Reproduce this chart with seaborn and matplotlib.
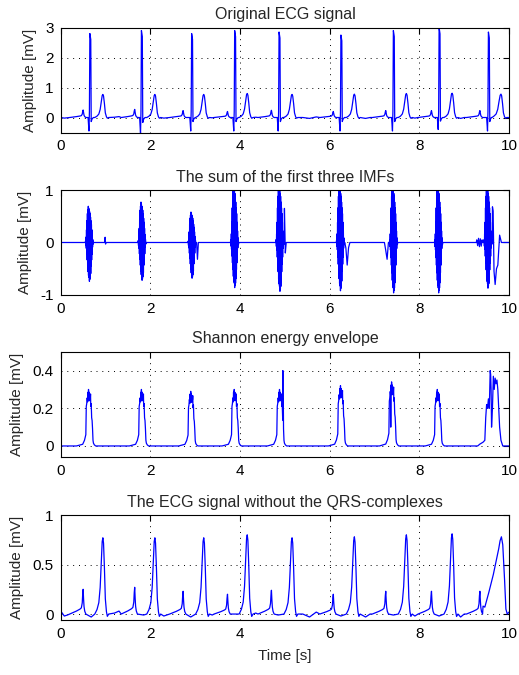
import numpy as np
import pandas as pd
import matplotlib
matplotlib.use("Agg")
import matplotlib.pyplot as plt
import seaborn as sns

# beat landmarks (seconds)
r_times = [0.65, 1.80, 2.92, 3.88, 4.87, 6.25, 7.42, 8.44, 9.54]
p_times = [0.50, 1.65, 2.73, 3.72, 4.70, 6.08, 7.25, 8.27, 9.35]
t_times = [0.94, 2.10, 3.19, 4.16, 5.16, 6.55, 7.71, 8.73, 9.82]

# wave amplitudes (mV)
r_amp = [2.80, 2.90, 2.80, 2.90, 2.85, 2.75, 2.90, 3.00, 2.85]
q_amp = [0.45, 0.55, 0.45, 0.45, 0.45, 0.45, 0.45, 0.40, 0.45]
p_amp = [0.25, 0.27, 0.23, 0.20, 0.24, 0.20, 0.23, 0.23, 0.23]
t_amp = [0.77, 0.77, 0.77, 0.80, 0.77, 0.78, 0.80, 0.81, 0.78]
t_rise = [1, 1, 1, 1, 1, 1, 1, 1, 1.2]

# wave shapes (offset from the landmark, fraction of the amplitude)
p_off = [-0.30, -0.15, -0.07, -0.04, -0.02, -0.01, 0.0, 0.01, 0.02, 0.035, 0.06]
p_rel = [0.0, 0.12, 0.2, 0.25, 0.45, 0.8, 1.0, 0.6, 0.3, 0.12, 0.0]
qrs_off = [-0.04, -0.02, -0.01, 0.0, 0.02, 0.03, 0.05, 0.08]
qrs_rel = [0.0, -1.0, 0.07, 1.0, 0.93, -0.3, -0.1, 0.0]
t_off = [-0.18, -0.13, -0.09, -0.06, -0.035, -0.015, 0.0, 0.015, 0.035, 0.055, 0.08, 0.10, 0.13]
t_rel = [0.0, 0.06, 0.15, 0.35, 0.7, 0.95, 1.0, 0.93, 0.6, 0.2, 0.03, -0.03, 0.0]

# slow baseline wander between the beats
base_t = [0.08, 0.15, 1.20, 1.30, 2.30, 3.38, 4.35, 5.40, 5.55, 5.70, 6.80, 6.90, 7.90, 8.92, 9.00]
base_v = [-0.02, -0.01, 0.01, 0.03, -0.02, -0.01, 0.01, 0.0, -0.03, 0.02, -0.03, 0.0, -0.02, -0.03, 0.0]
# what is left where the QRS was cut out
gap_t = [0.68, 1.85, 2.90, 3.88, 4.85, 6.25, 7.42, 8.44]
gap_v = [-0.03, -0.01, -0.03, 0.0, -0.01, -0.02, -0.01, -0.02]
# last beat of the cleaned signal (long ramp into the T wave)
tail_t = [9.42, 9.46, 9.55, 9.65, 9.72, 9.77, 9.80, 9.83, 9.86, 9.90, 9.93, 9.96]
tail_v = [0.08, 0.07, 0.22, 0.40, 0.55, 0.66, 0.74, 0.78, 0.70, 0.35, 0.05, 0.0]

# IMF bursts
burst_mid = [0.655, 1.83, 2.945, 3.895, 4.905, 6.255, 7.44, 8.445, 9.545]
burst_up = [0.69, 0.77, 0.58, 1.1, 1.1, 1.1, 1.1, 1.1, 1.1]
burst_dn = [0.74, 0.72, 0.68, 0.86, 0.93, 0.92, 0.96, 0.96, 0.87]
burst_off = [-0.11, -0.10, -0.095, -0.09, -0.085, -0.08, -0.075, -0.07, -0.065, -0.06,
             -0.055, -0.05, -0.045, -0.04, -0.035, -0.03, -0.025, -0.02, -0.015, -0.01,
             -0.005, 0.0, 0.005, 0.01, 0.015, 0.02, 0.025, 0.03, 0.035, 0.04,
             0.045, 0.05, 0.055, 0.06, 0.07, 0.08]
burst_rel = [0.0, 0.05, -0.08, 0.15, -0.15, 0.35, -0.3, 0.6, -0.45, 0.8,
             -0.6, 0.9, -0.75, 1.0, -0.85, 0.95, -0.9, 0.9, -1.0, 0.85,
             -0.95, 0.8, -0.9, 0.7, -0.8, 0.6, -0.6, 0.5, -0.45, 0.35,
             -0.3, 0.2, -0.12, 0.08, -0.04, 0.0]
imf_t = [0.98, 0.99, 1.00, 1.01, 3.03, 3.05, 3.07, 4.99, 5.01, 5.03, 6.36, 6.39, 6.42, 6.45,
         7.22, 7.25, 7.28, 7.31, 9.27, 9.28, 9.30, 9.32, 9.34, 9.36, 9.38, 9.40, 9.41,
         9.63, 9.645, 9.665, 9.69, 9.72, 9.75, 9.79, 9.83]
imf_v = [0.0, 0.1, -0.03, 0.0, 0.0, -0.32, 0.0, 0.65, -0.2, 0.0, -0.1, -0.43, -0.1, 0.0,
         0.0, -0.15, -0.32, 0.0, 0.0, 0.05, -0.06, 0.08, -0.08, 0.07, -0.07, 0.05, 0.0,
         0.68, 0.6, -0.55, -0.8, -0.5, -0.43, 0.14, 0.0]

# Shannon energy bumps
sh_mid = [0.65, 1.83, 2.93, 3.90, 4.91, 6.27, 7.41, 8.43]
sh_peak = [0.30, 0.30, 0.29, 0.30, 0.30, 0.32, 0.34, 0.30]
sh_off = [-0.30, -0.16, -0.12, -0.09, -0.08, -0.07, -0.06, -0.05, -0.045, -0.04, -0.03, -0.02,
          -0.015, -0.01, 0.0, 0.01, 0.015, 0.02, 0.03, 0.04, 0.05, 0.06, 0.07, 0.08, 0.10, 0.13]
sh_rel = [0.0, 0.03, 0.1, 0.2, 0.7, 0.75, 0.85, 0.78, 0.95, 0.8, 1.0, 0.85, 0.95, 0.8, 0.9,
          0.85, 0.92, 0.7, 0.75, 0.5, 0.45, 0.3, 0.1, 0.05, 0.02, 0.0]
sh_t = [4.955, 4.965, 7.362,
        9.30, 9.35, 9.42, 9.46, 9.48, 9.50, 9.52, 9.54, 9.56, 9.58, 9.59, 9.60, 9.61, 9.63,
        9.65, 9.67, 9.69, 9.71, 9.73, 9.75, 9.77, 9.79, 9.82, 9.86]
sh_v = [0.40, 0.25, 0.10,
        0.0, 0.01, 0.02, 0.03, 0.15, 0.22, 0.20, 0.25, 0.20, 0.40, 0.38, 0.30, 0.10, 0.20,
        0.37, 0.30, 0.36, 0.33, 0.35, 0.30, 0.20, 0.10, 0.03, 0.0]


def place(anchors, offsets, rel, up, down=None, stretch=None):
    # put one wave shape at every landmark
    down = up if down is None else down
    t, v = [], []
    for i, a in enumerate(anchors):
        k = 1 if stretch is None else stretch[i]
        for o, r in zip(offsets, rel):
            t.append(a + (o * k if o < 0 else o))
            v.append(r * (up[i] if r >= 0 else down[i]))
    return t, v


def trace(*parts):
    t = np.concatenate([np.asarray(p[0], float) for p in parts])
    v = np.concatenate([np.asarray(p[1], float) for p in parts])
    order = np.argsort(t, kind="stable")
    return pd.DataFrame({"t": t[order], "v": v[order]})


ecg = trace(([0, 10], [0.0, 0.0]), (base_t, base_v),
            place(p_times, p_off, p_rel, p_amp),
            place(r_times, qrs_off, qrs_rel, r_amp, q_amp),
            place(t_times, t_off, t_rel, t_amp, stretch=t_rise))
imf = trace(([0, 10], [0.0, 0.0]), (imf_t, imf_v),
            place(burst_mid, burst_off, burst_rel, burst_up, burst_dn))
shannon = trace(([0, 10], [0.0, 0.0]), (sh_t, sh_v),
                place(sh_mid, sh_off, sh_rel, sh_peak))
clean = trace(([0, 10], [0.03, 0.02]), (base_t, base_v), (gap_t, gap_v), (tail_t, tail_v),
              place(p_times, p_off, p_rel, p_amp),
              place(t_times[:8], t_off, t_rel, t_amp[:8]))

sns.set_style("white")
plt.rcParams["font.family"] = ["Liberation Sans", "DejaVu Sans"]

fig = plt.figure(figsize=(5.19, 6.75), dpi=100)

panels = [
    (ecg, "Original ECG signal", (-0.5, 3), [0, 1, 2, 3], ["0", "1", "2", "3"], 0.8037),
    (imf, "The sum of the first three IMFs", (-1, 1), [-1, 0, 1], ["-1", "0", "1"], 0.5630),
    (shannon, "Shannon energy envelope", (-0.057, 0.5), [0, 0.2, 0.4], ["0", "0.2", "0.4"], 0.3234),
    (clean, "The ECG signal without the QRS-complexes", (-0.06, 1), [0, 0.5, 1], ["0", "0.5", "1"], 0.0815),
]

for k, (df, title, ylim, yt, ytl, bottom) in enumerate(panels):
    ax = fig.add_axes([0.117, bottom, 0.8638, 0.1555])
    sns.lineplot(data=df, x="t", y="v", sort=False, estimator=None,
                 color="blue", linewidth=0.9, ax=ax)
    ax.set_xlim(0, 10)
    ax.set_ylim(*ylim)
    ax.set_xticks([0, 2, 4, 6, 8, 10])
    ax.set_xticklabels(["0", "2", "4", "6", "8", "10"])
    ax.set_yticks(yt)
    ax.set_yticklabels(ytl)
    ax.grid(True, color="black", linestyle=(0, (1, 5)), linewidth=0.7)
    ax.tick_params(direction="in", length=4, top=True, right=True, labelsize=11,
                   colors="black", pad=5)
    for s in ax.spines.values():
        s.set_color("black")
        s.set_linewidth(0.8)
    ax.set_title(title, fontsize=11.5)
    ax.set_ylabel("Amplitude [mV]", fontsize=11, labelpad=6)
    if k == 3:
        ax.set_xlabel("Time [s]", fontsize=11, labelpad=6)
    else:
        ax.set_xlabel("")

fig.savefig("out.png", dpi=100)
